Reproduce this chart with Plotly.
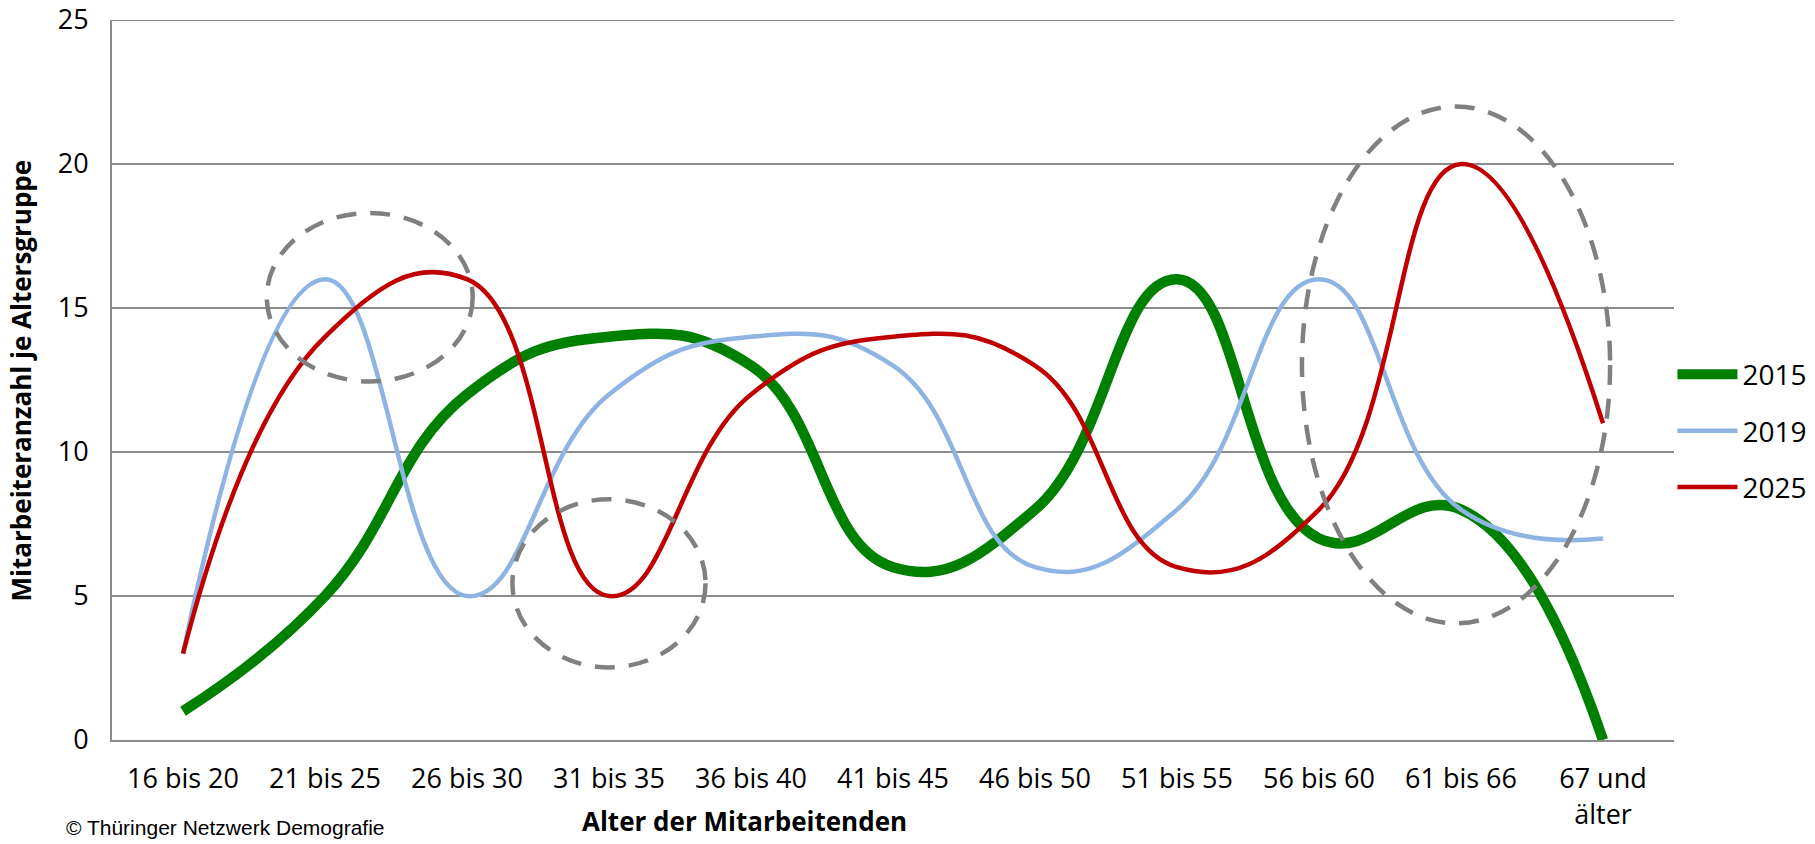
import plotly.graph_objects as go

# Age groups on the horizontal axis
age_groups = ["16 bis 20", "21 bis 25", "26 bis 30", "31 bis 35", "36 bis 40",
              "41 bis 45", "46 bis 50", "51 bis 55", "56 bis 60", "61 bis 66",
              "67 und<br>älter"]

# Number of employees per age group
values_2015 = [1, 5, 12, 14, 13, 6, 8, 16, 7, 8, 0]
values_2019 = [3, 16, 5, 12, 14, 13, 6, 8, 16, 8, 7]
values_2025 = [3, 14, 16, 5, 12, 14, 13, 6, 8, 20, 11]

y_ticks = [0, 5, 10, 15, 20, 25]

FONT = "Open Sans"
GRID = "#8c8c8c"
SMOOTH = 1.3

x_idx = list(range(len(age_groups)))

fig = go.Figure()
fig.add_trace(go.Scatter(
    x=x_idx, y=values_2015, name="2015", mode="lines", legendgroup="a",
    line=dict(color="#008000", width=10.5, shape="spline", smoothing=SMOOTH),
))
fig.add_trace(go.Scatter(
    x=x_idx, y=values_2019, name="2019", mode="lines", legendgroup="b",
    line=dict(color="#8DB4E2", width=4.5, shape="spline", smoothing=SMOOTH),
))
fig.add_trace(go.Scatter(
    x=x_idx, y=values_2025, name="2025", mode="lines", legendgroup="c",
    line=dict(color="#C00000", width=4.5, shape="spline", smoothing=SMOOTH),
))

# Top border gridline at the axis maximum
fig.add_shape(type="line", xref="paper", yref="y", x0=0, x1=1, y0=25, y1=25,
              line=dict(color=GRID, width=2), layer="below")

# Dashed ellipses highlighting the key age ranges
ellipse_style = dict(color="#808080", width=4.5, dash="20px,14px")
for x0, x1, y0, y1 in [(0.59, 2.04, 12.45, 18.3),
                       (2.32, 3.68, 2.52, 8.36),
                       (7.88, 10.05, 4.05, 22.0)]:
    fig.add_shape(type="circle", xref="x", yref="y",
                  x0=x0, x1=x1, y0=y0, y1=y1,
                  line=ellipse_style, fillcolor="rgba(0,0,0,0)", layer="above")

fig.update_layout(
    width=1815, height=844,
    margin=dict(l=112, r=141, t=20, b=104, autoexpand=False),
    paper_bgcolor="white", plot_bgcolor="white",
    font=dict(family=FONT, size=27, color="#000000"),
    showlegend=True,
    legend=dict(
        x=0.999, xanchor="left", y=0.429, yanchor="middle",
        font=dict(family=FONT, size=28, color="#000000"),
        itemwidth=60, tracegroupgap=17, traceorder="grouped",
        bgcolor="rgba(0,0,0,0)", borderwidth=0,
    ),
    xaxis=dict(
        range=[-0.5, 10.5], tickmode="array", tickvals=x_idx, ticktext=age_groups,
        showgrid=False, zeroline=False, showline=True, linecolor=GRID, linewidth=2,
        ticks="", ticklabelstandoff=14, automargin=False,
        tickfont=dict(family=FONT, size=27, color="#000000"),
    ),
    yaxis=dict(
        range=[0, 25], tickmode="array", tickvals=y_ticks,
        showgrid=True, gridcolor=GRID, gridwidth=2, zeroline=False,
        showline=True, linecolor=GRID, linewidth=2,
        ticks="", ticklabelstandoff=16, automargin=False,
        tickfont=dict(family=FONT, size=27, color="#000000"),
    ),
    annotations=[
        dict(text="<b>Mitarbeiteranzahl je Altersgruppe</b>", textangle=-90,
             xref="paper", yref="paper", x=-0.058, y=0.5,
             xanchor="center", yanchor="middle", showarrow=False,
             font=dict(family=FONT, size=26, color="#000000")),
        dict(text="<b>Alter der Mitarbeitenden</b>",
             xref="paper", yref="paper", x=0.405, y=-0.113,
             xanchor="center", yanchor="middle", showarrow=False,
             font=dict(family=FONT, size=26, color="#000000")),
        dict(text="© Thüringer Netzwerk Demografie",
             xref="paper", yref="paper", x=-0.031, y=-0.122,
             xanchor="left", yanchor="middle", showarrow=False,
             font=dict(family="Liberation Sans", size=21, color="#000000")),
    ],
)

fig.write_html("out.html")
